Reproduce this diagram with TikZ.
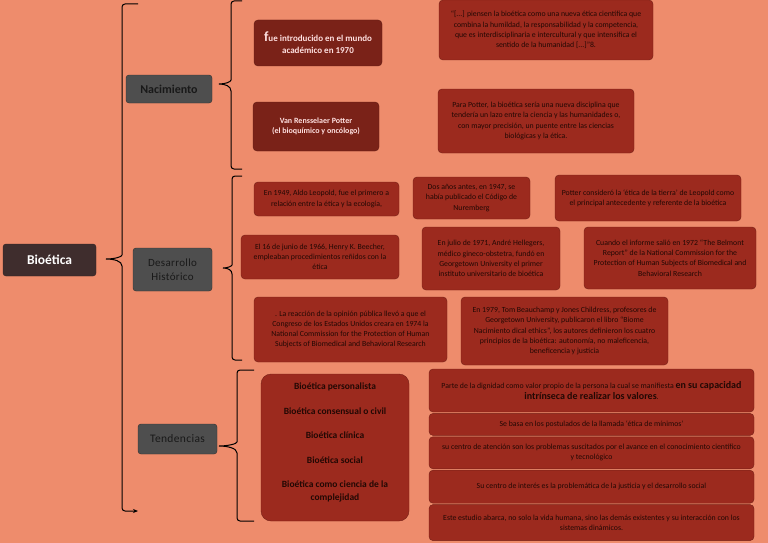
\documentclass[tikz,border=0pt]{standalone}
\usepackage{fontspec}
\setmainfont{Carlito}
\newfontfamily\wide[LetterSpace=3]{Carlito}
\usetikzlibrary{arrows.meta, positioning}
\definecolor{salmon}{RGB}{238,140,108}
\definecolor{boxred}{RGB}{156,42,30}
\definecolor{boxdark}{RGB}{122,34,24}
\definecolor{catgray}{RGB}{78,78,78}
\definecolor{rootbrown}{RGB}{63,45,45}
\definecolor{inkdark}{RGB}{34,8,4}

\begin{document}
\begin{tikzpicture}[
    x=1pt, y=-1pt,
    >=Latex,
    font = \fontsize{7.8}{10.2}\selectfont,
    root/.style={
      draw = rootbrown!80!black,
      rounded corners = 3pt,
      fill = rootbrown,
      text = white,
      font = \fontsize{13.5}{15}\selectfont\bfseries,
      minimum width = 93pt,
      minimum height = 32pt,
    },
    cat/.style={
      draw = catgray!60!black,
      rounded corners = 3pt,
      fill = catgray,
      text = black!90,
      align = center,
      inner sep = 2pt,
    },
    intro/.style={
      draw = boxdark!80!black,
      rounded corners = 4pt,
      fill = boxdark,
      text = white!88!red,
      align = center,
      inner sep = 1pt,
    },
    fact/.style={
      draw = boxred!75!black,
      rounded corners = 4pt,
      fill = boxred,
      text = inkdark,
      align = center,
      inner sep = 1pt,
    },
    brk/.style={
      draw = black,
      line width = 1pt,
      rounded corners = 3pt,
    },
  ]
  \useasboundingbox (0,0) rectangle (768,543);
  \fill[salmon] (0,0) rectangle (768,543);

  \node[root] (bio) at (49.5,260) {Bioética};
  \node[cat, minimum width = 86pt, minimum height = 28pt,
    font = \fontsize{12}{13}\selectfont\bfseries] (nac) at (169,89) {Nacimiento};
  \node[cat, minimum width = 79pt, minimum height = 43pt,
    font = \fontsize{11}{14.5}\wide] (des) at (172.5,269.5) {Desarrollo\\Histórico};
  \node[cat, minimum width = 79pt, minimum height = 30pt,
    font = \fontsize{11.5}{13}\wide] (ten) at (177.5,439) {Tendencias};

  \node[intro, minimum width = 128pt, minimum height = 46pt,
    font = \fontsize{9}{12}\selectfont\bfseries] (n1) at (318,43)
    {{\fontsize{14}{14}\selectfont f}ue introducido en el mundo\\académico en 1970};
  \node[fact, minimum width = 214pt, minimum height = 60pt] (n2) at (546,30)
    {“[...] piensen la bioética como una nueva ética científica que\\combina la humildad, la responsabilidad y la competencia,\\que es interdisciplinaria e intercultural y que intensifica el\\sentido de la humanidad [...]”8.};
  \node[intro, minimum width = 126pt, minimum height = 49pt,
    font = \fontsize{8}{9.5}\selectfont\bfseries] (n3) at (316,126.5)
    {Van Rensselaer Potter\\(el bioquímico y oncólogo)};
  \node[fact, minimum width = 196pt, minimum height = 64pt] (n4) at (536,121)
    {Para Potter, la bioética sería una nueva disciplina que\\tendería un lazo entre la ciencia y las humanidades o,\\con mayor precisión, un puente entre las ciencias\\biológicas y la ética.};

  \node[fact, minimum width = 145pt, minimum height = 34pt] (d1) at (326.5,199)
    {En 1949, Aldo Leopold, fue el primero a\\relación entre la ética y la ecología,};
  \node[fact, minimum width = 117pt, minimum height = 42pt] (d2) at (471.5,198)
    {Dos años antes, en 1947, se\\había publicado el Código de\\Nuremberg};
  \node[fact, minimum width = 186pt, minimum height = 46pt] (d3) at (648,198)
    {Potter consideró la ‘ética de la tierra’ de Leopold como\\el principal antecedente y referente de la bioética};
  \node[fact, minimum width = 158pt, minimum height = 44pt] (d4) at (320,257)
    {El 16 de junio de 1966, Henry K. Beecher,\\empleaban procedimientos reñidos con la\\ética};
  \node[fact, minimum width = 138pt, minimum height = 63pt] (d5) at (491,258.5)
    {En julio de 1971, André Hellegers,\\médico gineco-obstetra, fundó en\\Georgetown University el primer\\instituto universitario de bioética};
  \node[fact, minimum width = 172pt, minimum height = 62pt] (d6) at (670,258)
    {Cuando el informe salió en 1972 “The Belmont\\Report” de la National Commission for the\\Protection of Human Subjects of Biomedical and\\Behavioral Research};
  \node[fact, minimum width = 193pt, minimum height = 65pt] (d7) at (350.5,329.5)
    {. La reacción de la opinión pública llevó a que el\\Congreso de los Estados Unidos creara en 1974 la\\National Commission for the Protection of Human\\Subjects of Biomedical and Behavioral Research};
  \node[fact, minimum width = 207pt, minimum height = 68pt] (d8) at (564.5,331)
    {En 1979, Tom Beauchamp y Jones Childress, profesores de\\Georgetown University, publicaron el libro “Biome\\Nacimiento dical ethics”, los autores definieron los cuatro\\principios de la bioética: autonomía, no maleficencia,\\beneficencia y justicia};

  \node[fact, rounded corners = 10pt, minimum width = 148pt, minimum height = 147pt,
    font = \fontsize{9.5}{13.3}\selectfont\bfseries] (t0) at (335,447.5)
    {Bioética personalista\\[11.2pt]Bioética consensual o civil\\[11.2pt]Bioética clínica\\[11.2pt]Bioética social\\[11.2pt]Bioética como ciencia de la\\complejidad\\[-2pt]\mbox{}};

  \node[fact, minimum width = 325pt, minimum height = 43pt] (s1) at (591.5,390.5)
    {Parte de la dignidad como valor propio de la persona la cual se manifiesta {\fontsize{10}{12}\selectfont\bfseries en su capacidad}\\{\fontsize{10}{12}\selectfont\bfseries intrínseca de realizar los valores}.};
  \node[fact, minimum width = 325pt, minimum height = 22pt, below = 1pt of s1] (s2)
    {Se basa en los postulados de la llamada ‘ética de mínimos’};
  \node[fact, minimum width = 325pt, minimum height = 32pt, below = 1pt of s2] (s3)
    {su centro de atención son los problemas suscitados por el avance en el conocimiento científico\\y tecnológico};
  \node[fact, minimum width = 325pt, minimum height = 33pt, below = 1pt of s3] (s4)
    {Su centro de interés es la problemática de la justicia y el desarrollo social};
  \node[fact, minimum width = 325pt, minimum height = 36pt, below = 1pt of s4] (s5)
    {Este estudio abarca, no solo la vida humana, sino las demás existentes y su interacción con los\\sistemas dinámicos.};

  \coordinate (m1) at (138,4);
  \coordinate (m2) at (138,511);
  \coordinate (a1) at (242,1);
  \coordinate (a2) at (242,169);
  \coordinate (b1) at (242,176);
  \coordinate (b2) at (242,360);
  \coordinate (c1) at (254,370);
  \coordinate (c2) at (254,521);
  \draw[brk, -{Stealth[length=5pt, width=4pt]}] (m1) -| (122,252)
    [sharp corners] .. controls (122,257) and (114,259) .. (106,259)
    .. controls (114,259) and (122,261) .. (122,266) [rounded corners=3pt] |- (m2);
  \draw[brk] (a1) -| (231,77)
    [sharp corners] .. controls (231,82) and (225,84) .. (219,84)
    .. controls (225,84) and (231,86) .. (231,91) [rounded corners=3pt] |- (a2);
  \draw[brk] (b1) -| (232,262)
    [sharp corners] .. controls (232,266) and (228,268) .. (223,268)
    .. controls (228,268) and (232,270) .. (232,274) [rounded corners=3pt] |- (b2);
  \draw[brk] (c1) -| (237,439)
    [sharp corners] .. controls (237,444) and (227,446) .. (219,446)
    .. controls (227,446) and (237,448) .. (237,453) [rounded corners=3pt] |- (c2);
\end{tikzpicture}
\end{document}
